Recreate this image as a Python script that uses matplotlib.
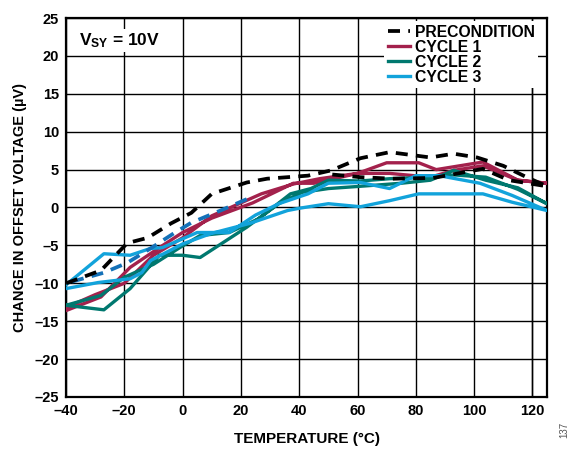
import matplotlib
matplotlib.use("Agg")
import matplotlib.pyplot as plt
from matplotlib.ticker import FuncFormatter, MultipleLocator

plt.rcParams['font.family'] = ['Liberation Sans', 'DejaVu Sans']
plt.rcParams['font.weight'] = 'bold'
plt.rcParams['mathtext.fontset'] = 'custom'
plt.rcParams['mathtext.rm'] = 'Liberation Sans:bold'
plt.rcParams['mathtext.bf'] = 'Liberation Sans:bold'
plt.rcParams['mathtext.it'] = 'Liberation Sans:bold'

# precondition sweep (black dashed, up and partly back)
pre_temp = [-40, -28, -19, -12, -4, 3, 10, 22, 29, 43, 51, 61, 71, 85, 93, 101,
            110, 118, 125, 112, 103, 86, 72, 61, 50]
pre_volt = [-10.0, -8.3, -4.7, -4.0, -2.1, -0.7, 1.8, 3.3, 3.8, 4.2, 4.9, 6.5,
            7.3, 6.6, 7.1, 6.6, 5.5, 4.0, 2.8, 3.6, 5.1, 3.9, 3.8, 4.0, 4.4]

# return of precondition at low temperature (blue dashed)
pre_ret_temp = [22, 13, 3, -3, -11, -19, -27, -40]
pre_ret_volt = [1.1, -0.4, -2.0, -3.4, -5.4, -7.3, -8.6, -10.0]

# cycle 1 loop
c1_temp = [-40, -28, -18, -8, 0, 10, 24, 38, 45, 52, 60, 70, 81, 87, 103, 115, 125,
           115, 103, 93, 85, 71, 60, 47, 38, 27, 10, 0, -10, -20, -30, -40]
c1_volt = [-13.6, -11.8, -7.9, -5.3, -3.3, -1.4, 0.6, 3.2, 3.2, 3.8, 4.5, 5.9, 5.9,
           5.0, 6.0, 3.6, 3.2,
           3.6, 5.5, 4.9, 4.0, 4.5, 4.5, 3.8, 3.1, 1.8, -1.1, -4.0, -6.3, -10.0,
           -11.5, -13.2]

# cycle 2 loop
c2_temp = [-40, -27, -18, -8, 0, 6, 22, 33, 41, 50, 61, 75, 85, 93, 104, 115, 125,
           115, 104, 93, 85, 71, 61, 50, 44, 37, 26, 16, 6, -1, -10, -20, -28, -40]
c2_volt = [-12.9, -13.5, -10.7, -6.3, -6.3, -6.6, -2.6, 0.5, 2.0, 2.5, 2.8, 3.2,
           3.6, 4.9, 3.6, 2.6, 0.5,
           2.4, 4.0, 4.3, 4.0, 3.8, 3.5, 3.6, 2.5, 1.8, -1.5, -3.3, -3.7, -5.3,
           -7.5, -9.2, -11.6, -12.9]

# cycle 3 loop
c3_temp = [-40, -27, -18, -11, -7, 5, 16, 25, 33, 43, 50, 61, 71, 80, 88, 102, 113, 125,
           113, 103, 81, 71, 61, 50, 40, 36, 23, 10, 0, -11, -14, -18, -29, -40]
c3_volt = [-10.2, -6.1, -6.3, -5.4, -5.3, -3.3, -3.3, -1.0, 0.5, 1.8, 3.2, 3.3,
           2.5, 4.2, 4.2, 3.2, 1.6, -0.4,
           0.7, 1.8, 1.8, 0.9, 0.1, 0.5, -0.1, -0.4, -2.1, -3.4, -4.8, -7.0, -8.6,
           -9.4, -9.9, -10.7]

x_ticks = [-40, -20, 0, 20, 40, 60, 80, 100, 120]

fig = plt.figure(figsize=(5.73, 4.49), dpi=100)
ax = fig.add_axes([66 / 573, 1 - 397 / 449, 481 / 573, 379 / 449])

lw = 2.4
ax.plot(c1_temp, c1_volt, color='#A3214C', lw=lw, label='CYCLE 1', zorder=3)
ax.plot(c2_temp, c2_volt, color='#00786F', lw=lw, label='CYCLE 2', zorder=3)
ax.plot(c3_temp, c3_volt, color='#12A3DB', lw=lw, label='CYCLE 3', zorder=3)
ax.plot(pre_ret_temp, pre_ret_volt, color='#1471B8', lw=lw + 0.3,
        dashes=(3.2, 2.2), zorder=4)
ax.plot(pre_temp, pre_volt, color='black', lw=lw + 0.3, dashes=(3.2, 2.2),
        label='PRECONDITION', zorder=4)

ax.set_xlim(-40, 125)
ax.set_ylim(-25, 25)
ax.set_xticks(x_ticks)
ax.yaxis.set_major_locator(MultipleLocator(5))
ax.grid(True, color='black', lw=1.0)
ax.axvline(120, color='black', lw=1.0, zorder=1)
for s in ax.spines.values():
    s.set_linewidth(1.6)
ax.tick_params(length=0, labelsize=10.5, pad=5)
fmt = FuncFormatter(lambda v, p: ('%d' % v).replace('-', '\u2013'))
ax.xaxis.set_major_formatter(fmt)
ax.yaxis.set_major_formatter(fmt)
for t in ax.get_xticklabels() + ax.get_yticklabels():
    t.set_fontweight('bold')

ax.set_xlabel('TEMPERATURE (°C)', fontsize=11, fontweight='bold', labelpad=10)
ax.set_ylabel('CHANGE IN OFFSET VOLTAGE (µV)', fontsize=10.5, fontweight='bold',
              labelpad=5)

ax.text(-35.5, 22.0, r'$\mathregular{V_{SY}}$ = 10V', fontsize=12.5, fontweight='bold',
        va='center', ha='left', zorder=5,
        bbox=dict(facecolor='white', edgecolor='none', pad=1.5))

handles, labels = ax.get_legend_handles_labels()
order = [3, 0, 1, 2]
leg = ax.legend([handles[i] for i in order], [labels[i] for i in order],
                loc='upper right', bbox_to_anchor=(0.985, 0.995),
                frameon=True, fancybox=False, framealpha=1, edgecolor='none',
                borderpad=0.2, labelspacing=0.0, handlelength=1.45,
                handletextpad=0.3, borderaxespad=0.1,
                prop={'size': 11.3, 'weight': 'bold'})
leg.set_zorder(6)

fig.text(0.985, 0.025, '137', rotation=90, fontsize=7, color='#555555',
         fontweight='normal', ha='center', va='bottom')

fig.savefig('out.png', dpi=100)
